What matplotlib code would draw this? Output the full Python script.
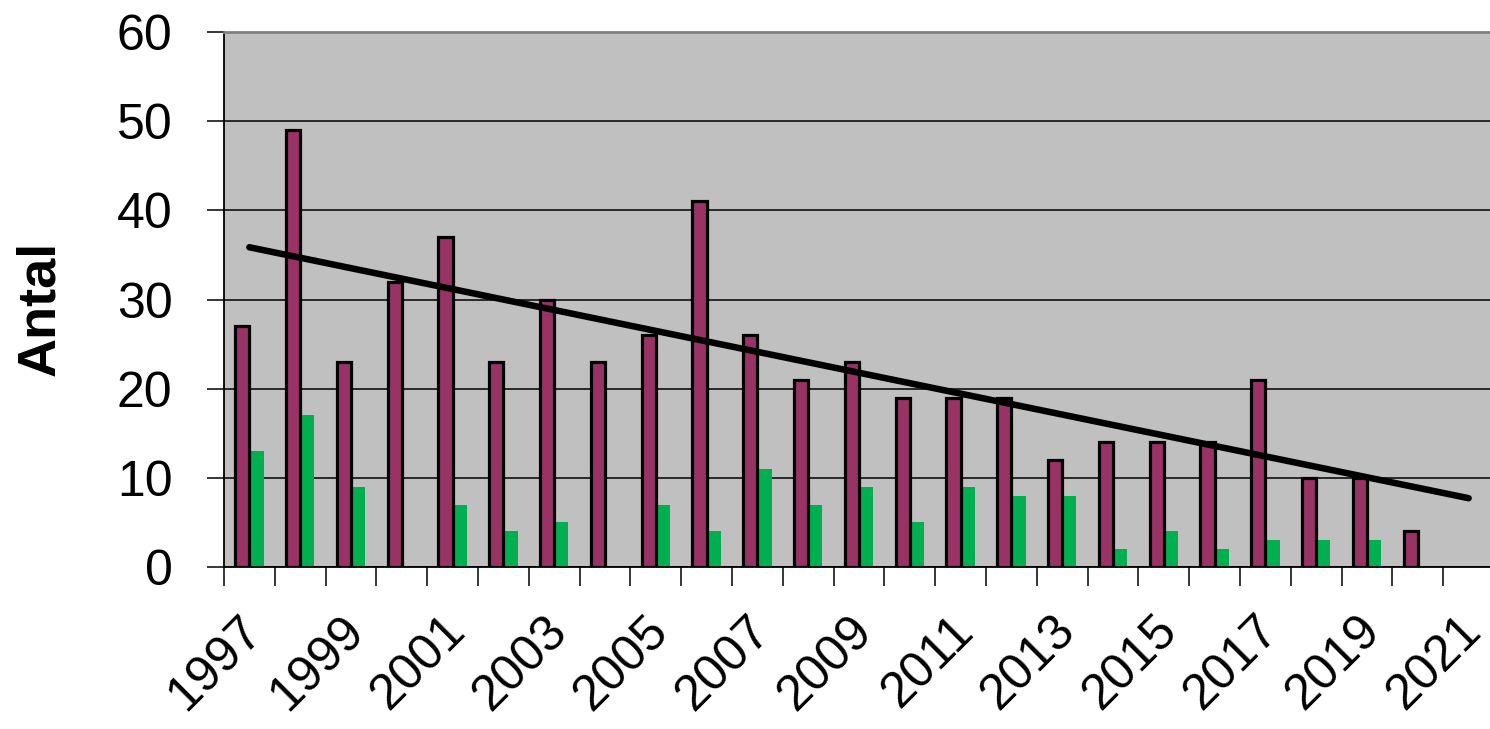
import numpy as np
import matplotlib
matplotlib.use("Agg")
import matplotlib.pyplot as plt
import matplotlib.transforms as mtransforms
from matplotlib.ticker import FixedLocator, NullFormatter, FixedFormatter

plt.rcParams['font.family'] = ['Liberation Sans', 'DejaVu Sans']

years = list(range(1997, 2022))
maroon_vals = [27, 49, 23, 32, 37, 23, 30, 23, 26, 41, 26, 21, 23, 19, 19, 19, 12, 14, 14, 14, 21, 10, 10, 4]
green_vals = [13, 17, 9, 0, 7, 4, 5, 0, 7, 4, 11, 7, 9, 5, 9, 8, 8, 2, 4, 2, 3, 3, 3, 0]
tick_labels = [str(y) for y in years[::2]]
y_ticks = [0, 10, 20, 30, 40, 50, 60]

MAROON = '#993366'
GREEN = '#00B050'
BG = '#C0C0C0'

fig = plt.figure(figsize=(14.9, 7.29), dpi=100)
ax = fig.add_axes([0.1503, 0.2222, 0.8524, 0.7339])
ax.set_facecolor(BG)

x = np.arange(len(maroon_vals))
w = 0.28
ax.bar(x + w / 2, green_vals, width=w, color=GREEN, edgecolor='none', zorder=2)
ax.bar(x - w / 2, maroon_vals, width=w, color=MAROON, edgecolor='black', linewidth=2.3, zorder=3)

# linear trend line (fitted to maroon series, extended one period forward)
coef = np.polyfit(x, maroon_vals, 1)
xt = np.array([0, len(years) - 1])
ax.plot(xt, np.polyval(coef, xt), color='black', linewidth=4.7, solid_capstyle='round', zorder=4)

ax.set_xlim(-0.5, len(years) - 0.5)
ax.set_ylim(0, 60)

ax.set_yticks(y_ticks)
ax.set_yticklabels([str(v) for v in y_ticks])
ax.yaxis.grid(True, color='black', linewidth=1.1, zorder=1)
ax.set_axisbelow(True)

ax.xaxis.set_major_locator(FixedLocator(np.arange(-0.5, len(years), 1.0)))
ax.xaxis.set_major_formatter(NullFormatter())
ax.xaxis.set_minor_locator(FixedLocator(np.arange(0, len(years), 2)))
ax.xaxis.set_minor_formatter(FixedFormatter(tick_labels))

ax.tick_params(axis='x', which='major', direction='out', length=14, width=1.1, color='black')
ax.tick_params(axis='x', which='minor', length=0, pad=29, labelsize=36)
ax.tick_params(axis='y', direction='out', length=12, width=1.1, pad=25, labelsize=36)
offset = mtransforms.ScaledTranslation(22 / 100, 0, fig.dpi_scale_trans)
for lab in ax.xaxis.get_minorticklabels():
    lab.set_rotation(45)
    lab.set_ha('right')
    lab.set_va('top')
    lab.set_transform(lab.get_transform() + offset)

for s in ['left', 'bottom']:
    ax.spines[s].set_color('black')
    ax.spines[s].set_linewidth(1.3)
ax.spines['top'].set_color('#808080')
ax.spines['top'].set_linewidth(2)
ax.spines['right'].set_color('#808080')
ax.spines['right'].set_linewidth(2)

fig.text(40 / 1490, 1 - 308 / 729, 'Antal', rotation=90, ha='center', va='center',
         fontsize=39, fontweight='bold')

fig.savefig('out.png', dpi=100, facecolor='white')
